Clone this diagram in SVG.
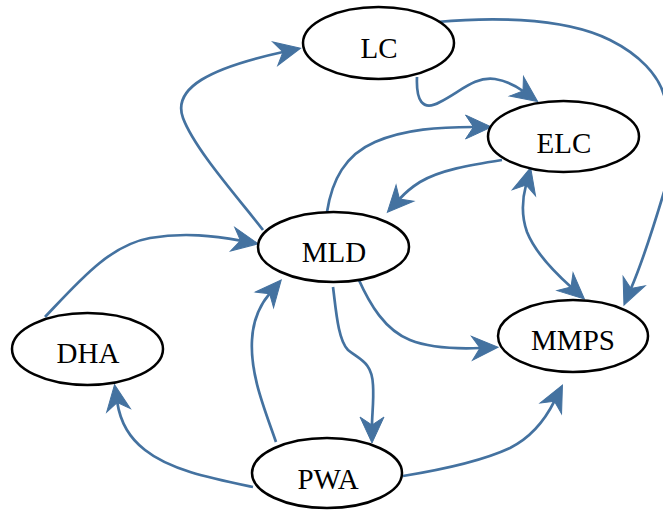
<svg xmlns="http://www.w3.org/2000/svg" width="663" height="510" viewBox="0 0 663 510">
<style>
.node ellipse{fill:#fff;stroke:#000;stroke-width:2.5}
.node text{font-family:"Liberation Serif","Times New Roman",serif;font-size:29px;fill:#000;text-anchor:middle}
.edges path{fill:none;stroke:#4472a0;stroke-width:2.7}
</style>
<defs>
<marker id="vee" markerUnits="userSpaceOnUse" viewBox="-10 -14 30 28" refX="0" refY="0" markerWidth="30" markerHeight="28" orient="auto-start-reverse" overflow="visible">
<path d="M18,0 L-8,-12 L0,0 L-8,12 Z" fill="#4472a0" stroke="#4472a0" stroke-width="1" stroke-linejoin="miter"/>
</marker>
</defs>
<rect width="663" height="510" fill="#fff"/>
<g class="edges">
<path d="M263,230 C240,200 195,150 183,118 C172,88 210,68 283,52" marker-end="url(#vee)"/>
<path d="M417,77 C416,100 422,112 440,102 C460,92 475,76 495,79 C507,81 516,86 523,91" marker-end="url(#vee)"/>
<path d="M437,22 C480,18 560,15 610,40 C640,55 658,75 664,95 C678,130 680,165 664,192 C652,232 641,265 631,288.5" marker-end="url(#vee)"/>
<path d="M327,212 C332,180 345,155 375,142 C405,129 440,127 473.5,127" marker-end="url(#vee)"/>
<path d="M502,160 C470,165 440,170 420,182 C412,187 405,193 399.5,199" marker-end="url(#vee)"/>
<path d="M526,185 C522,200 521,215 527,232 C535,252 552,270 571,287" marker-start="url(#vee)" marker-end="url(#vee)"/>
<path d="M45,317 C80,280 110,245 150,238 C185,232 215,236 240.5,240.6" marker-end="url(#vee)"/>
<path d="M276,442 C265,410 250,375 252,340 C253,320 260,305 269.6,293.7" marker-end="url(#vee)"/>
<path d="M333,287 C336,310 338,340 348,350 C360,360 372,362 373,385 C374,400 372,415 372,425" marker-end="url(#vee)"/>
<path d="M358,278 C370,305 385,330 410,340 C430,348 455,349 480,348" marker-end="url(#vee)"/>
<path d="M253,487 C210,478 170,470 145,450 C128,437 120,420 117.3,402.5" marker-end="url(#vee)"/>
<path d="M403,476 C440,470 480,462 510,448 C530,438 545,420 554.4,401.2" marker-end="url(#vee)"/>
</g>
<g id="LC" class="node"><ellipse cx="378.5" cy="43" rx="75.5" ry="36"/><text x="379" y="58">LC</text></g>
<g id="ELC" class="node"><ellipse cx="563.5" cy="136.5" rx="75.5" ry="35.5"/><text x="564" y="153">ELC</text></g>
<g id="MLD" class="node"><ellipse cx="333.5" cy="247" rx="75.5" ry="35"/><text x="334" y="262">MLD</text></g>
<g id="DHA" class="node"><ellipse cx="87.5" cy="349" rx="75.5" ry="36"/><text x="88" y="363">DHA</text></g>
<g id="MMPS" class="node"><ellipse cx="573" cy="336" rx="75" ry="36"/><text x="573" y="350">MMPS</text></g>
<g id="PWA" class="node"><ellipse cx="327" cy="473" rx="75" ry="35"/><text x="328" y="489">PWA</text></g>
</svg>
